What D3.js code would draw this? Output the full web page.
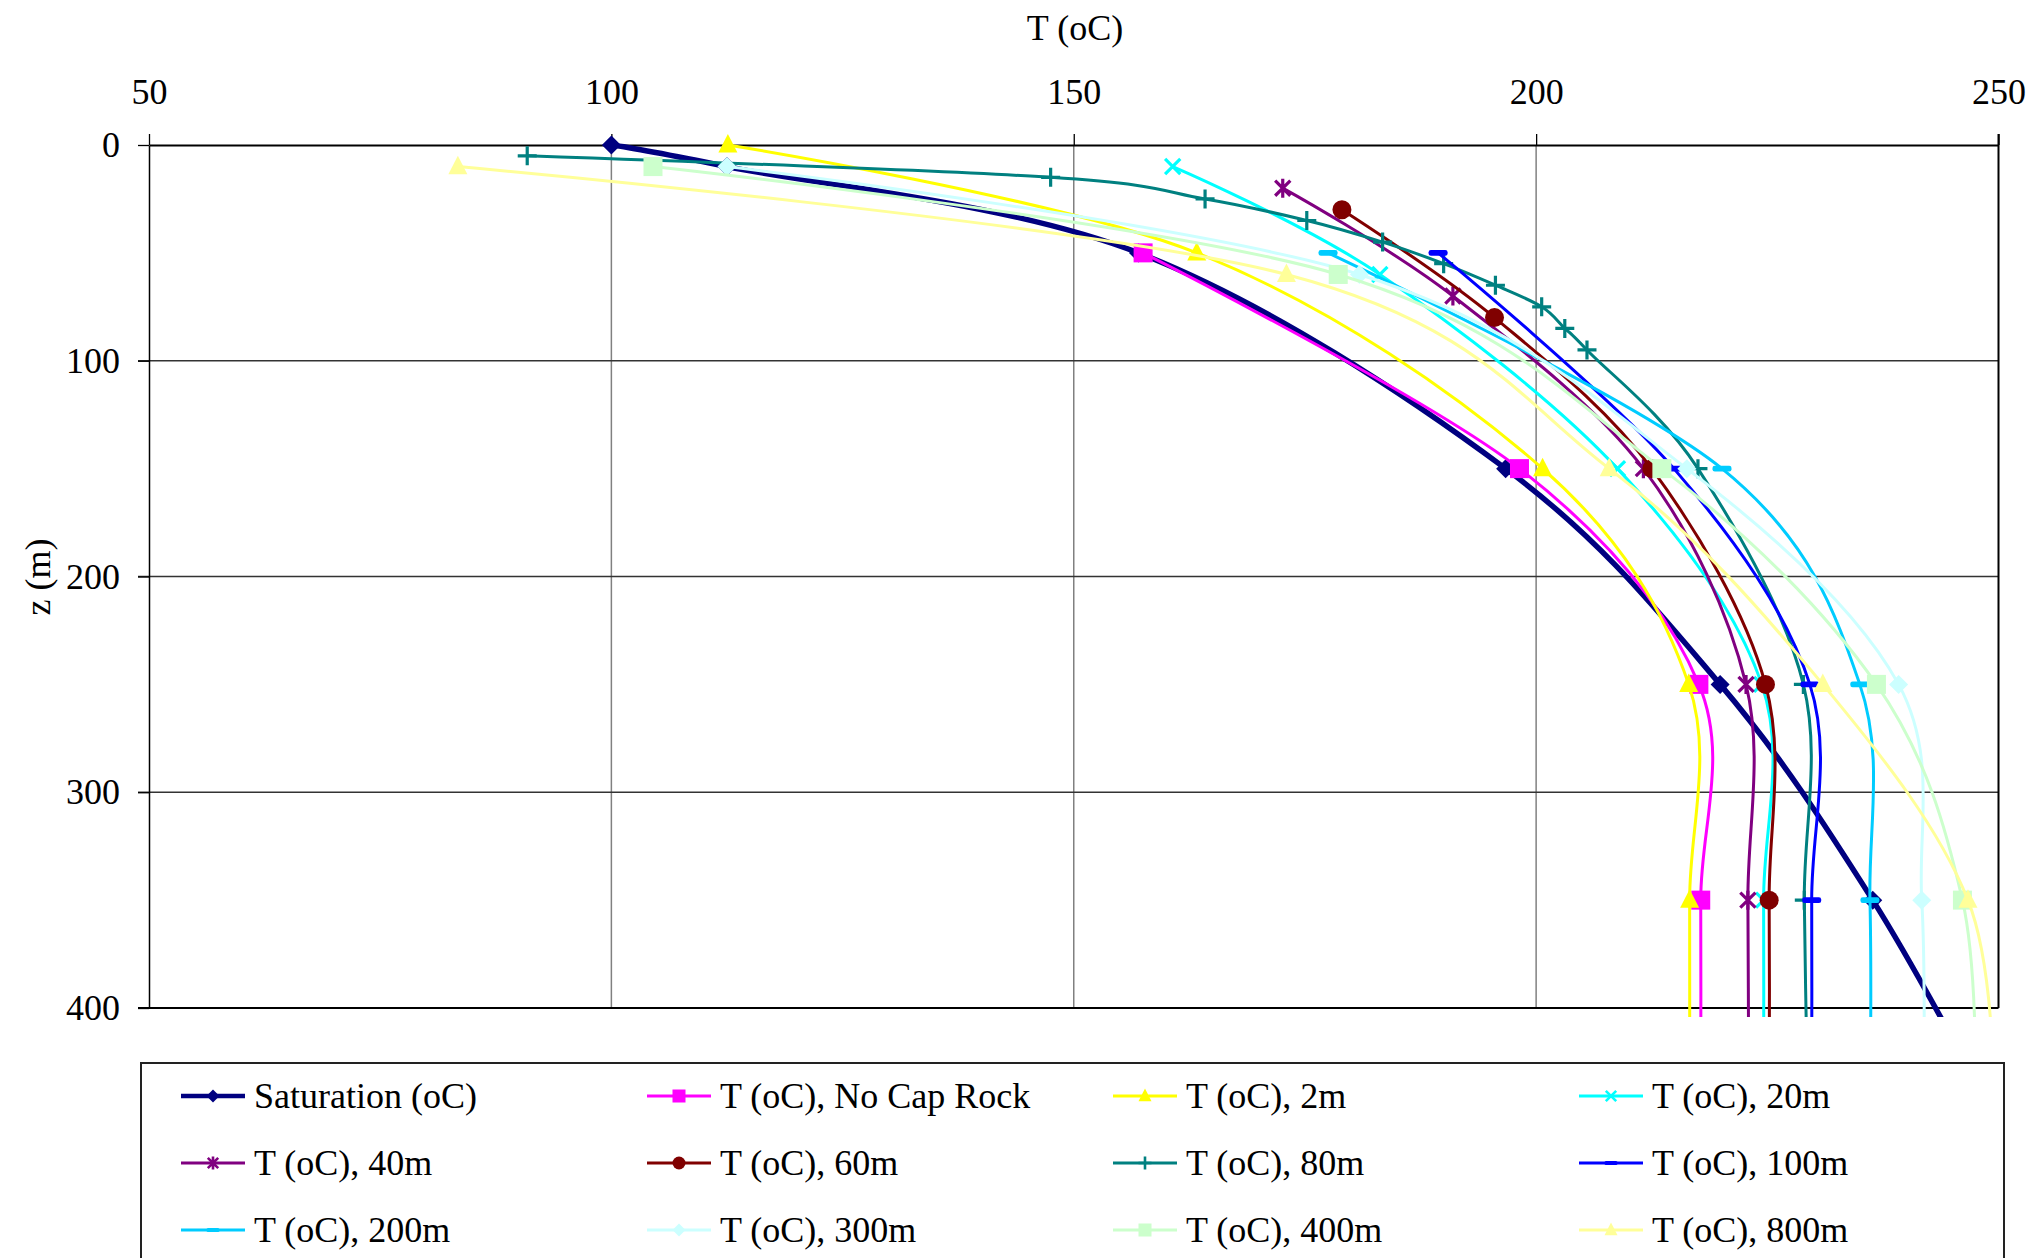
<!DOCTYPE html>
<html>
<head>
<meta charset="utf-8">
<script src="https://cdn.jsdelivr.net/npm/d3@7"></script>
<style>
  body { margin: 0; background: #fff; }
  svg { display: block; }
  text { font-family: "Liberation Serif", "Times New Roman", serif; fill: #000; }
</style>
</head>
<body>
<div id="chart"></div>
<script>
// axis ticks
var tempTicks = [50, 100, 150, 200, 250];
var depthTicks = [0, 100, 200, 300, 400];

// series names, in legend order
var seriesNames = ["Saturation (oC)", "T (oC), No Cap Rock", "T (oC), 2m", "T (oC), 20m",
    "T (oC), 40m", "T (oC), 60m", "T (oC), 80m", "T (oC), 100m",
    "T (oC), 200m", "T (oC), 300m", "T (oC), 400m", "T (oC), 800m"];

// depth (m) / temperature (oC)
var zSat = [0, 10, 50, 150, 250, 350, 450];
var tSat = [100, 112.5, 157, 196.7, 219.9, 236.4, 249.5];
var zNoCap = [50, 150, 250, 350, 450];
var tNoCap = [157.5, 198.2, 217.6, 217.8, 217.8];
var z2m = [0, 50, 150, 250, 350, 450];
var t2m = [112.6, 163.3, 200.7, 216.5, 216.6, 216.6];
var z20m = [10, 60, 150, 250, 350, 450];
var t20m = [160.7, 183.1, 208.8, 224.4, 224.6, 224.6];
var z40m = [20, 70, 150, 250, 350, 450];
var t40m = [172.6, 191.0, 211.6, 222.7, 222.9, 223.0];
var z60m = [30, 80, 150, 250, 350, 450];
var t60m = [179.0, 195.5, 212.5, 224.8, 225.2, 225.2];
var z80m = [5, 15, 25, 35, 45, 55, 65, 75, 85, 95, 150, 250, 350, 450];
var t80m = [90.9, 147.5, 164.2, 175.2, 183.4, 190.0, 195.6, 200.6, 203.1, 205.5, 217.5, 228.9, 229.0, 229.4];
var z100m = [50, 150, 250, 350, 450];
var t100m = [189.4, 214.9, 229.6, 229.8, 229.8];
var z200m = [50, 150, 250, 350, 450];
var t200m = [177.5, 220.1, 235.0, 236.1, 236.1];
var z300m = [10, 60, 150, 250, 350, 450];
var t300m = [112.5, 180.9, 216.3, 239.2, 241.7, 241.9];
var z400m = [10, 60, 150, 250, 350, 450];
var t400m = [104.5, 178.6, 213.6, 236.8, 246.1, 247.5];
var z800m = [10, 60, 150, 250, 350, 450];
var t800m = [83.4, 173.0, 207.9, 231.0, 246.7, 249.5];

var depthSets = [zSat, zNoCap, z2m, z20m, z40m, z60m, z80m, z100m, z200m, z300m, z400m, z800m];
var tempSets = [tSat, tNoCap, t2m, t20m, t40m, t60m, t80m, t100m, t200m, t300m, t400m, t800m];

// styles
var colors = ["#000080", "#FF00FF", "#FFFF00", "#00FFFF", "#800080", "#800000",
    "#008080", "#0000FF", "#00CCFF", "#CCFFFF", "#CCFFCC", "#FFFF99"];
var markers = ["diamond", "square", "triangle", "x", "star", "circle",
    "plus", "dash", "dash", "diamond", "square", "triangle"];
var widths = [5.5, 3, 3, 3, 3, 3, 3, 3, 3, 3, 3, 3];

var W = 2032, H = 1258;
var plot = {left: 149, right: 1998.5, top: 145, bottom: 1008};

var series = seriesNames.map(function(name, i) {
    return {
        name: name, color: colors[i], marker: markers[i], width: widths[i],
        values: depthSets[i].map(function(z, j) { return {z: z, t: tempSets[i][j]}; })
    };
});

var svg = d3.select("#chart").append("svg").attr("width", W).attr("height", H);

var x = d3.scaleLinear().domain([50, 250]).range([plot.left, plot.right]);
var y = d3.scaleLinear().domain([0, 400]).range([plot.top, plot.bottom]);

// grid
svg.append("g").selectAll("line").data(tempTicks.slice(1, -1)).enter().append("line")
    .attr("x1", function(d) { return x(d); }).attr("x2", function(d) { return x(d); })
    .attr("y1", plot.top).attr("y2", plot.bottom)
    .attr("stroke", "#808080").attr("stroke-width", 1.5);
svg.append("g").selectAll("line").data(depthTicks.slice(1)).enter().append("line")
    .attr("x1", plot.left - 11).attr("x2", plot.right)
    .attr("y1", function(d) { return y(d); }).attr("y2", function(d) { return y(d); })
    .attr("stroke", function(d) { return d === 400 ? "#000" : "#333"; })
    .attr("stroke-width", function(d) { return d === 400 ? 2 : 1.5; });
svg.append("line").attr("x1", plot.right).attr("x2", plot.right)
    .attr("y1", plot.top - 11).attr("y2", plot.bottom)
    .attr("stroke", "#000").attr("stroke-width", 2);

// axes
var xAxis = d3.axisTop(x).tickValues(tempTicks).tickSize(11).tickSizeOuter(0).tickPadding(30);
var gx = svg.append("g").attr("transform", "translate(0," + plot.top + ")").call(xAxis);
gx.select(".domain").attr("stroke", "#000").attr("stroke-width", 2);
gx.selectAll(".tick line").attr("stroke", "#000").attr("stroke-width", 1.3);
gx.selectAll("text").attr("font-size", 36).attr("font-family", null);

var yAxis = d3.axisLeft(y).tickValues(depthTicks).tickSize(11).tickSizeOuter(0).tickPadding(18);
var gy = svg.append("g").attr("transform", "translate(" + plot.left + ",0)").call(yAxis);
gy.select(".domain").attr("stroke", "#000").attr("stroke-width", 1.5);
gy.selectAll(".tick line").attr("stroke", "#000").attr("stroke-width", 1.3);
gy.selectAll("text").attr("font-size", 36).attr("font-family", null);

svg.append("text").attr("x", 1075).attr("y", 40).attr("text-anchor", "middle")
    .attr("font-size", 36).text("T (oC)");
svg.append("text").attr("transform", "translate(50,577) rotate(-90)")
    .attr("text-anchor", "middle").attr("font-size", 36).text("z (m)");

// markers
function drawMarker(g, type, color, s) {
    var h = s / 2;
    if (type === "diamond") {
        g.append("path").attr("d", "M0," + (-h) + "L" + h + ",0L0," + h + "L" + (-h) + ",0Z").attr("fill", color);
    } else if (type === "square") {
        g.append("rect").attr("x", -h).attr("y", -h).attr("width", s).attr("height", s).attr("fill", color);
    } else if (type === "triangle") {
        g.append("path").attr("d", "M0," + (-h * 1.15) + "L" + h + "," + (h * 0.8) + "L" + (-h) + "," + (h * 0.8) + "Z").attr("fill", color);
    } else if (type === "circle") {
        g.append("circle").attr("r", h).attr("fill", color);
    } else if (type === "dash") {
        g.append("rect").attr("x", -h).attr("y", -s * 0.15).attr("width", s).attr("height", s * 0.3)
            .attr("rx", s * 0.12).attr("fill", color);
    } else {
        var p = "";
        var k = h * 0.8;
        if (type === "x" || type === "star") p += "M" + (-k) + "," + (-k) + "L" + k + "," + k + "M" + (-k) + "," + k + "L" + k + "," + (-k);
        if (type === "star") p += "M0," + (-h) + "L0," + h;
        if (type === "plus") p += "M" + (-h) + ",0L" + h + ",0M0," + (-h) + "L0," + h;
        g.append("path").attr("d", p).attr("stroke", color).attr("stroke-width", s > 14 ? 3.2 : 2.6).attr("fill", "none");
    }
}

svg.append("clipPath").attr("id", "plotClip").append("rect")
    .attr("x", plot.left).attr("y", plot.top - 4)
    .attr("width", plot.right - plot.left).attr("height", plot.bottom - plot.top + 13);

var line = d3.line()
    .x(function(d) { return x(d.t); })
    .y(function(d) { return y(d.z); })
    .curve(d3.curveCardinal.tension(0));

series.forEach(function(s) {
    var g = svg.append("g");
    g.append("path").attr("d", line(s.values)).attr("fill", "none")
        .attr("stroke", s.color).attr("stroke-width", s.width)
        .attr("stroke-linejoin", "round").attr("clip-path", "url(#plotClip)");
    g.selectAll("g.mk").data(s.values.filter(function(d) { return d.z <= 400; }))
        .enter().append("g").attr("class", "mk")
        .attr("transform", function(d) { return "translate(" + x(d.t) + "," + y(d.z) + ")"; })
        .each(function() { drawMarker(d3.select(this), s.marker, s.color, 19); });
});

// legend
var legend = svg.append("g");
legend.append("rect").attr("x", 141).attr("y", 1063).attr("width", 1863).attr("height", 230)
    .attr("fill", "#fff").attr("stroke", "#222").attr("stroke-width", 2);
var colX = [181, 647, 1113, 1579];
var rowY = [1096, 1163, 1230];
series.forEach(function(s, i) {
    var lx = colX[i % 4], ly = rowY[Math.floor(i / 4)];
    var item = legend.append("g").attr("transform", "translate(" + lx + "," + ly + ")");
    item.append("line").attr("x1", 0).attr("x2", 64).attr("y1", 0).attr("y2", 0)
        .attr("stroke", s.color).attr("stroke-width", i === 0 ? 4.5 : 3);
    drawMarker(item.append("g").attr("transform", "translate(32,0)"), s.marker, s.color, 13);
    item.append("text").attr("x", 73).attr("y", 12).attr("font-size", 36).text(s.name);
});
</script>
</body>
</html>
